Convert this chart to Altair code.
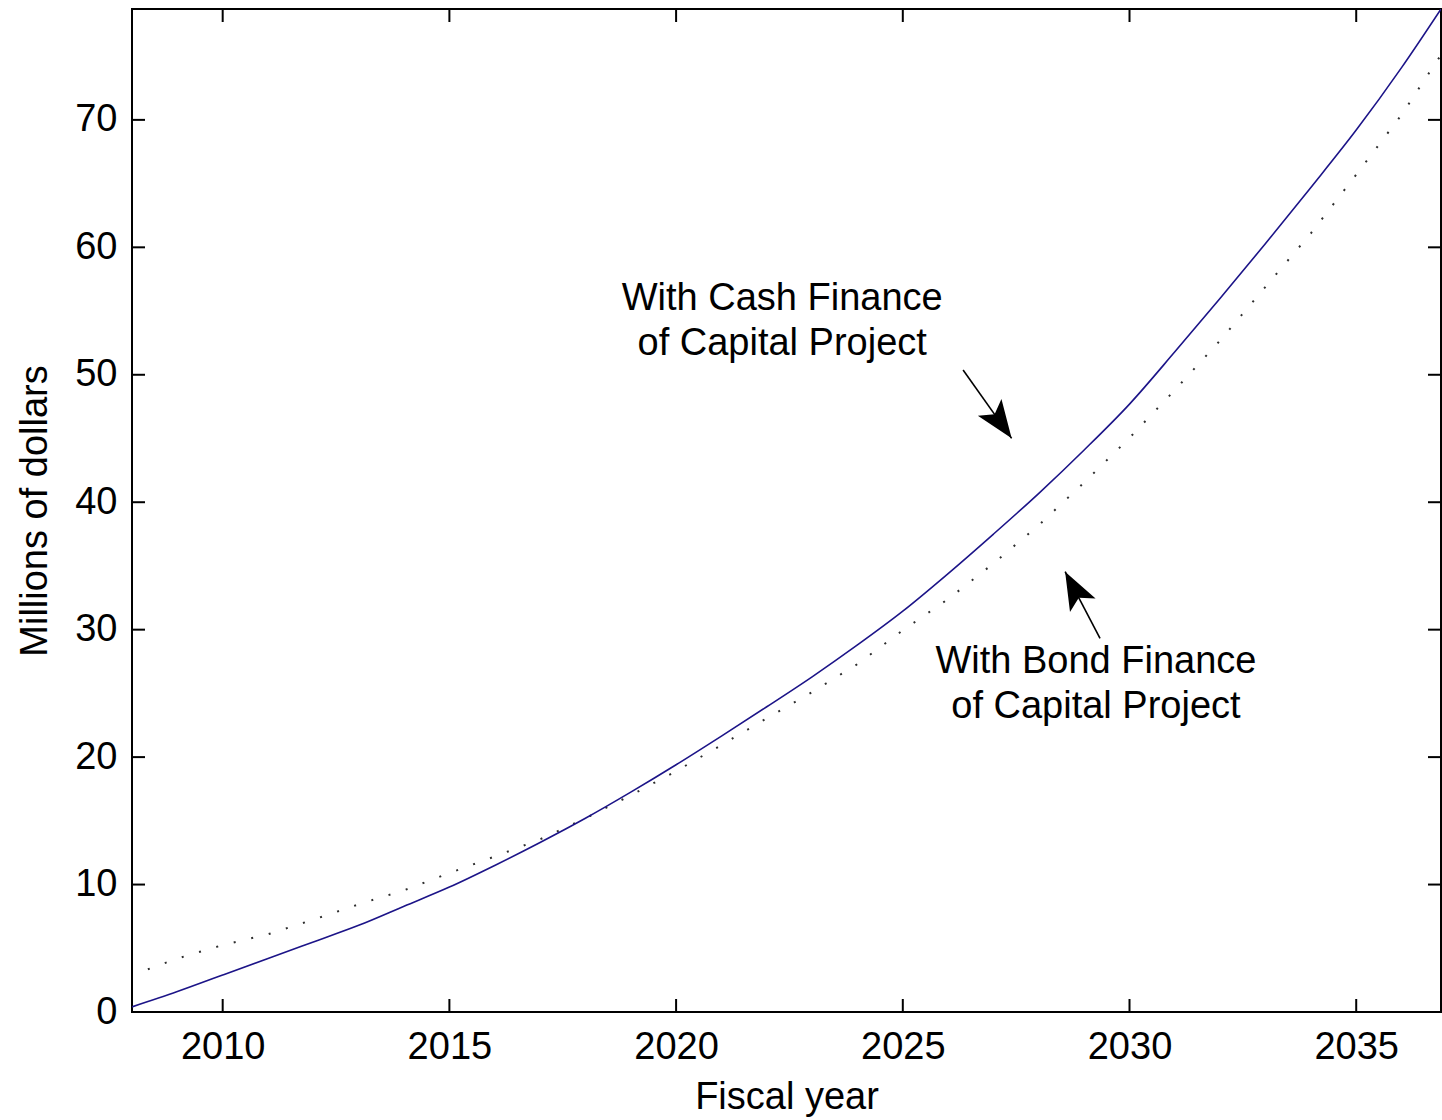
import altair as alt
import pandas as pd

# ---------------- data ----------------
years = list(range(2008, 2038))
cash_values = [0.4, 1.6, 2.9, 4.2, 5.5, 6.8, 8.3, 9.8, 11.5, 13.3,
               15.2, 17.25, 19.4, 21.65, 23.95, 26.3, 28.8, 31.45, 34.4, 37.5,
               40.7, 44.1, 47.7, 51.8, 56.0, 60.3, 64.7, 69.2, 74.1, 79.4]

bond_years = [2008.35] + list(range(2009, 2038))
bond_values = [3.35, 4.2, 5.25, 6.1, 7.25, 8.45, 9.55, 10.9, 12.2, 13.55,
               15.2, 17.0, 18.9, 20.95, 23.05, 25.1, 27.3, 29.95, 32.4, 35.2,
               38.2, 41.55, 45.05, 48.8, 52.7, 56.9, 61.1, 65.7, 70.4, 75.8]

x_ticks = [2010, 2015, 2020, 2025, 2030, 2035]
y_ticks = [0, 10, 20, 30, 40, 50, 60, 70]

ann_line1 = ["With Cash Finance", "With Bond Finance"]
ann_line2 = ["of Capital Project", "of Capital Project"]
ann_years = [2022.34, 2029.26]
ann_values = [55.08, 26.58]

arrow_tail_years = [2026.33, 2029.35]
arrow_tail_values = [50.37, 29.32]
arrow_tip_years = [2027.40, 2028.58]
arrow_tip_values = [45.01, 34.55]
arrow_angles = [144.7, 332.3]

# ---------------- layout / style ----------------
FONT = "Liberation Sans"
FS = 38
W, H = 1309, 1003
ARROW = "M0,0L-0.76,2L0,1.55L0.76,2Z"

cash_df = pd.DataFrame({"year": years, "value": cash_values})
bond_df = pd.DataFrame({"year": bond_years, "value": bond_values})
ytick_df = pd.DataFrame({"value": y_ticks})
xtick_df = pd.DataFrame({"year": x_ticks})
ann_df = pd.DataFrame({"year": ann_years, "value": ann_values,
                       "l1": ann_line1, "l2": ann_line2})
arrow_df = pd.DataFrame({"year": arrow_tail_years, "value": arrow_tail_values,
                         "year2": arrow_tip_years, "value2": arrow_tip_values})
head_df = pd.DataFrame({"year": arrow_tip_years, "value": arrow_tip_values,
                        "angle": arrow_angles})

xscale = alt.Scale(domain=[2008, 2036.87], nice=False, zero=False)
yscale = alt.Scale(domain=[0, 78.7], nice=False, zero=False)

xaxis = alt.Axis(title="Fiscal year", values=x_ticks, format="d",
                 ticks=False, domain=False, grid=False,
                 labelFont=FONT, labelFontSize=FS, labelColor="black",
                 labelPadding=16, labelFlush=False, labelOverlap=False,
                 titleFont=FONT, titleFontSize=FS, titleFontWeight="normal",
                 titleColor="black", titleBaseline="alphabetic",
                 titleAlign="center", titleX=W / 2, titleY=96)
yaxis = alt.Axis(title="Millions of dollars", values=y_ticks,
                 ticks=False, domain=False, grid=False,
                 labelFont=FONT, labelFontSize=FS, labelColor="black",
                 labelPadding=15, labelFlush=False, labelOverlap=False,
                 titleFont=FONT, titleFontSize=FS, titleFontWeight="normal",
                 titleColor="black", titleAngle=270, titleBaseline="alphabetic",
                 titleAlign="center", titleX=-86, titleY=H / 2)


def X(field="year:Q"):
    return alt.X(field, scale=xscale, axis=xaxis)


def Y(field="value:Q"):
    return alt.Y(field, scale=yscale, axis=yaxis)


bond = alt.Chart(bond_df).mark_line(
    color="#2e2e2e", strokeWidth=2, strokeDash=[2, 16], clip=True
).encode(x=X(), y=Y())

cash = alt.Chart(cash_df).mark_line(
    color="#1c1488", strokeWidth=1.6, clip=True, interpolate="monotone"
).encode(x=X(), y=Y())

tick_style = dict(color="black", strokeWidth=2)
left_ticks = alt.Chart(ytick_df).mark_rule(**tick_style).encode(
    y=Y(), x=alt.value(0), x2=alt.value(13))
right_ticks = alt.Chart(ytick_df).mark_rule(**tick_style).encode(
    y=Y(), x=alt.value(W - 13), x2=alt.value(W))
bottom_ticks = alt.Chart(xtick_df).mark_rule(**tick_style).encode(
    x=X(), y=alt.value(H - 13), y2=alt.value(H))
top_ticks = alt.Chart(xtick_df).mark_rule(**tick_style).encode(
    x=X(), y=alt.value(0), y2=alt.value(13))

text_style = dict(font=FONT, fontSize=FS, align="center",
                  baseline="alphabetic", color="black")
ann1 = alt.Chart(ann_df).mark_text(**text_style).encode(
    x=X(), y=Y(), text="l1:N")
ann2 = alt.Chart(ann_df).mark_text(dy=45, **text_style).encode(
    x=X(), y=Y(), text="l2:N")

shafts = alt.Chart(arrow_df).mark_rule(color="black", strokeWidth=1.6).encode(
    x=X(), y=Y(), x2="year2:Q", y2="value2:Q")

heads = alt.Chart(head_df).mark_point(
    shape=ARROW, filled=True, size=1444, color="black", opacity=1, strokeWidth=0
).encode(x=X(), y=Y(), angle=alt.Angle("angle:Q", scale=None))

chart = alt.layer(
    bond, cash, left_ticks, right_ticks, bottom_ticks, top_ticks,
    ann1, ann2, shafts, heads
).properties(
    width=W, height=H,
    autosize=alt.AutoSizeParams(type="none"),
    padding={"left": 132, "top": 9, "right": 1, "bottom": 108},
    background="white",
).configure_view(
    stroke="black", strokeWidth=2
)

chart.save("out.html", embed_options={"renderer": "svg", "actions": False})
